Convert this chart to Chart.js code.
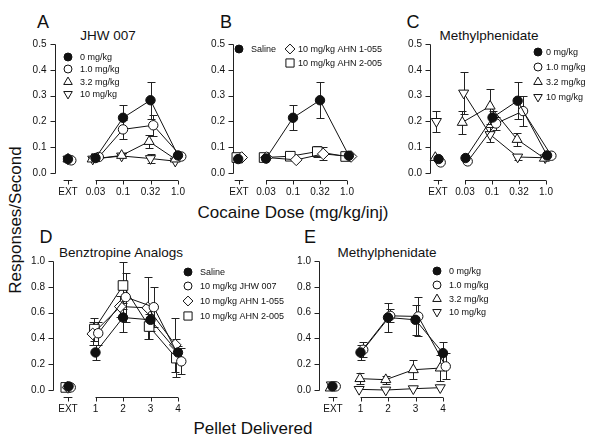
<!DOCTYPE html>
<html>
<head>
<meta charset="utf-8">
<script src="https://cdn.jsdelivr.net/npm/chart.js@4.4.1/dist/chart.umd.min.js"></script>
<style>
  body { margin: 0; background: #fff; width: 600px; height: 444px; overflow: hidden; position: relative;
         font-family: "Liberation Sans", Arial, sans-serif; color: #111; }
  canvas { position: absolute; left: 0; top: 0; }
  .t { position: absolute; white-space: nowrap; line-height: 1; transform: translate(-50%, -50%); }
  .letter { font-size: 18px; }
  .ttl { font-size: 13.5px; }
  .axt { font-size: 17px; }
</style>
</head>
<body>
<div class="t letter" style="left:43px;top:22px">A</div>
<div class="t letter" style="left:226px;top:22px">B</div>
<div class="t letter" style="left:413px;top:22px">C</div>
<div class="t letter" style="left:46px;top:237px">D</div>
<div class="t letter" style="left:310px;top:237px">E</div>
<div class="t ttl" style="left:108px;top:36px">JHW 007</div>
<div class="t ttl" style="left:489px;top:36px">Methylphenidate</div>
<div class="t ttl" style="left:121px;top:253px">Benztropine Analogs</div>
<div class="t ttl" style="left:387px;top:253px">Methylphenidate</div>
<div class="t axt" style="left:293px;top:212px">Cocaine Dose (mg/kg/inj)</div>
<div class="t axt" style="left:253px;top:428px">Pellet Delivered</div>
<div class="t axt" style="left:15px;top:220px;transform:translate(-50%,-50%) rotate(-90deg)">Responses/Second</div>

<script>
// tick labels
const doseTicks = ['EXT', '0.03', '0.1', '0.32', '1.0'];
const pelletTicks = ['EXT', '1', '2', '3', '4'];

// legend labels
const doseLegend = ['0 mg/kg', '1.0 mg/kg', '3.2 mg/kg', '10 mg/kg'];
const ahnLegend = ['Saline', '10 mg/kg AHN 1-055', '10 mg/kg AHN 2-005'];
const btLegend = ['Saline', '10 mg/kg JHW 007', '10 mg/kg AHN 1-055', '10 mg/kg AHN 2-005'];

// A - JHW 007 (x = position, y = mean, e = SEM)
const jhw0X = [0, 1, 2, 3, 4];
const jhw0Y = [0.054, 0.058, 0.214, 0.282, 0.068];
const jhw0E = [0, 0, 0.048, 0.072, 0];
const jhw1X = [0.12, 1.12, 2, 3.1, 4.12];
const jhw1Y = [0.049, 0.062, 0.169, 0.185, 0.064];
const jhw1E = [0, 0, 0.037, 0.04, 0];
const jhw3X = [0, 0.88, 1.95, 2.95, 3.9];
const jhw3Y = [0.054, 0.054, 0.068, 0.122, 0.054];
const jhw3E = [0, 0, 0, 0.025, 0];
const jhw10X = [0, 0.9, 1.95, 3, 3.9];
const jhw10Y = [0.054, 0.054, 0.066, 0.056, 0.046];
const jhw10E = [0, 0, 0, 0.016, 0];

// B - AHN compounds
const salX = [-0.03, 1, 2, 3, 4.07];
const salY = [0.054, 0.056, 0.214, 0.282, 0.067];
const salE = [0, 0, 0.048, 0.07, 0];
const ahn1X = [0.1, 1.02, 2.12, 3.12, 4.15];
const ahn1Y = [0.06, 0.06, 0.051, 0.074, 0.064];
const ahn1E = [0, 0, 0, 0.025, 0];
const ahn2X = [-0.08, 0.93, 1.9, 2.9, 3.95];
const ahn2Y = [0.06, 0.06, 0.065, 0.083, 0.064];
const ahn2E = [0, 0, 0, 0.02, 0];

// C - Methylphenidate, cocaine dose
const mph0X = [0.02, 1.02, 2.02, 2.95, 4.04];
const mph0Y = [0.054, 0.058, 0.215, 0.28, 0.068];
const mph0E = [0, 0, 0.025, 0.072, 0];
const mph1X = [0.1, 1.1, 2.15, 3.15, 4.2];
const mph1Y = [0.041, 0.045, 0.192, 0.24, 0.067];
const mph1E = [0, 0, 0.025, 0.057, 0];
const mph3X = [-0.1, 0.9, 1.93, 2.93, 3.94];
const mph3Y = [0.06, 0.196, 0.259, 0.13, 0.057];
const mph3E = [0, 0.043, 0.068, 0.024, 0];
const mph10X = [-0.06, 0.95, 1.93, 2.95, 3.97];
const mph10Y = [0.2, 0.31, 0.149, 0.062, 0.059];
const mph10E = [0.042, 0.08, 0.028, 0.012, 0];

// D - Benztropine analogs, pellets
const dSalX = [0.02, 1, 2, 3, 4];
const dSalY = [0.028, 0.291, 0.562, 0.544, 0.291];
const dSalE = [0, 0.055, 0.11, 0.09, 0.05];
const dJhwX = [0.1, 1.1, 2.1, 3.12, 4.12];
const dJhwY = [0.02, 0.44, 0.72, 0.642, 0.222];
const dJhwE = [0, 0.09, 0.19, 0.155, 0.1];
const dAhn1X = [0, 0.9, 1.9, 2.9, 3.9];
const dAhn1Y = [0.02, 0.435, 0.647, 0.637, 0.35];
const dAhn1E = [0, 0.09, 0.08, 0.24, 0.21];
const dAhn2X = [-0.08, 0.96, 2, 2.95, 3.94];
const dAhn2Y = [0.02, 0.472, 0.81, 0.492, 0.247];
const dAhn2E = [0, 0.09, 0.18, 0.1, 0.15];

// E - Methylphenidate, pellets
const e0X = [-0.02, 1, 2, 3, 4];
const e0Y = [0.028, 0.291, 0.562, 0.544, 0.286];
const e0E = [0, 0.055, 0.115, 0.115, 0.085];
const e1X = [0.1, 1.1, 2.08, 3.1, 4.1];
const e1Y = [0.028, 0.312, 0.575, 0.57, 0.183];
const e1E = [0, 0.06, 0.05, 0.15, 0.1];
const e3X = [-0.1, 0.98, 1.92, 2.92, 3.9];
const e3Y = [0.015, 0.088, 0.08, 0.157, 0.17];
const e3E = [0, 0.045, 0.03, 0.075, 0.1];
const e10X = [-0.06, 0.95, 1.92, 2.92, 3.9];
const e10Y = [0.04, 0.005, 0.0, 0.01, 0.018];
const e10E = [0, 0, 0, 0, 0];

const FONT = '"Liberation Sans", Arial, sans-serif';
const INK = '#111';

const sym = {
  filled:  { pointStyle: 'circle', radius: 4.7, rotation: 0, fill: INK },
  open:    { pointStyle: 'circle', radius: 4.7, rotation: 0, fill: '#fff' },
  up:      { pointStyle: 'triangle', radius: 5.8, rotation: 0, fill: '#fff' },
  down:    { pointStyle: 'triangle', radius: 5.8, rotation: 180, fill: '#fff' },
  diamond: { pointStyle: 'rectRot', radius: 5.8, rotation: 0, fill: '#fff' },
  square:  { pointStyle: 'rect', radius: 6.8, rotation: 0, fill: '#fff' }
};

function series(xs, ys, es, st) {
  return { xs: xs, ys: ys, es: es, st: st };
}

function panel(p) {
  const cv = document.createElement('canvas');
  cv.width = 600;
  cv.height = 444;
  document.body.appendChild(cv);

  const k = (p.x4 - p.x0) / 4;
  const xmin = -(p.x0 - p.left) / k;
  const xmax = 4.3;
  const right = p.x0 + xmax * k;

  const datasets = p.series.map(s => ({
    data: s.xs.map((x, i) => ({ x: x, y: s.ys[i] })),
    err: s.es,
    borderColor: INK,
    borderWidth: 1,
    tension: 0,
    fill: false,
    clip: false,
    pointStyle: s.st.pointStyle,
    pointRadius: s.st.radius,
    pointRotation: s.st.rotation,
    pointBackgroundColor: s.st.fill,
    pointBorderColor: INK,
    pointBorderWidth: 1,
    segment: { borderColor: c => c.p0DataIndex === 0 ? 'rgba(0,0,0,0)' : INK }
  }));

  const axesAndErrors = {
    id: 'axesAndErrors',
    beforeDatasetsDraw(chart) {
      const ctx = chart.ctx;
      const a = chart.chartArea;
      const x = chart.scales.x, y = chart.scales.y;
      ctx.save();
      ctx.strokeStyle = '#222';
      ctx.lineWidth = 1;
      ctx.beginPath();
      // y axis
      const ax = Math.round(a.left) + 0.5;
      ctx.moveTo(ax, Math.round(y.getPixelForValue(y.max)) + 0.5);
      ctx.lineTo(ax, Math.round(y.getPixelForValue(0)) + 0.5);
      y.ticks.forEach(t => {
        const py = Math.round(y.getPixelForValue(t.value)) + 0.5;
        ctx.moveTo(ax - 5, py);
        ctx.lineTo(ax, py);
      });
      // broken x axis
      const ay = Math.round(a.bottom + 7) + 0.5;
      ctx.moveTo(x.getPixelForValue(-0.16), ay);
      ctx.lineTo(x.getPixelForValue(0.16), ay);
      ctx.moveTo(x.getPixelForValue(1), ay);
      ctx.lineTo(x.getPixelForValue(4), ay);
      [0, 1, 2, 3, 4].forEach(v => {
        const px = Math.round(x.getPixelForValue(v)) + 0.5;
        ctx.moveTo(px, ay);
        ctx.lineTo(px, ay + 4);
      });
      // error bars
      chart.data.datasets.forEach(ds => {
        ds.err.forEach((e, j) => {
          if (!e) return;
          const pt = ds.data[j];
          const px = Math.round(x.getPixelForValue(pt.x)) + 0.5;
          const hi = Math.round(y.getPixelForValue(pt.y + e)) + 0.5;
          const lo = Math.round(y.getPixelForValue(pt.y - e)) + 0.5;
          ctx.moveTo(px, hi); ctx.lineTo(px, lo);
          ctx.moveTo(px - 4, hi); ctx.lineTo(px + 4, hi);
          ctx.moveTo(px - 4, lo); ctx.lineTo(px + 4, lo);
        });
      });
      ctx.stroke();
      ctx.restore();
    }
  };

  const legend = {
    id: 'sideLegend',
    afterDraw(chart) {
      const ctx = chart.ctx;
      ctx.save();
      ctx.font = '9px ' + FONT;
      ctx.textBaseline = 'middle';
      p.legend.forEach(it => {
        const st = p.series[it.i].st;
        ctx.fillStyle = st.fill;
        ctx.strokeStyle = INK;
        ctx.lineWidth = 1;
        Chart.helpers.drawPoint(ctx, {
          pointStyle: st.pointStyle, radius: st.radius * 0.85, rotation: st.rotation, borderWidth: 1
        }, it.mx, it.my);
        ctx.fillStyle = INK;
        ctx.fillText(it.label, it.tx, it.my + 0.5);
      });
      ctx.restore();
    }
  };

  new Chart(cv, {
    type: 'line',
    data: { datasets: datasets },
    options: {
      responsive: false,
      animation: false,
      events: [],
      layout: { padding: { left: p.left - 30, right: 600 - right, top: p.top, bottom: 444 - p.bottom - 30 } },
      plugins: { legend: { display: false }, tooltip: { enabled: false } },
      scales: {
        x: {
          type: 'linear', min: xmin, max: xmax,
          grid: { display: false, drawTicks: false },
          border: { display: false },
          afterBuildTicks: s => { s.ticks = [0, 1, 2, 3, 4].map(v => ({ value: v })); },
          afterFit: s => { s.height = 30; },
          ticks: {
            padding: 13, maxRotation: 0, autoSkip: false, color: INK,
            font: { size: 10, family: FONT },
            callback: v => p.ticks[v]
          }
        },
        y: {
          type: 'linear', min: 0, max: p.ymax,
          grid: { display: false, drawTicks: false },
          border: { display: false },
          afterFit: s => { s.width = 30; },
          ticks: {
            stepSize: p.ymax / 5, padding: 8, color: INK,
            font: { size: 10, family: FONT },
            callback: v => v.toFixed(1)
          }
        }
      }
    },
    plugins: [axesAndErrors, legend]
  });
}

function rows(labels, mx, tx, ys) {
  return labels.map((l, i) => ({ i: i, label: l, mx: mx, tx: tx, my: ys[i] }));
}

panel({
  left: 54.5, x0: 68, x4: 178, top: 44, bottom: 173, ymax: 0.5, ticks: doseTicks,
  series: [
    series(jhw0X, jhw0Y, jhw0E, sym.filled),
    series(jhw1X, jhw1Y, jhw1E, sym.open),
    series(jhw3X, jhw3Y, jhw3E, sym.up),
    series(jhw10X, jhw10Y, jhw10E, sym.down)
  ],
  legend: rows(doseLegend, 68, 80, [57, 69, 82, 94])
});

panel({
  left: 233, x0: 239, x4: 347, top: 44, bottom: 173, ymax: 0.5, ticks: doseTicks,
  series: [
    series(salX, salY, salE, sym.filled),
    series(ahn1X, ahn1Y, ahn1E, sym.diamond),
    series(ahn2X, ahn2Y, ahn2E, sym.square)
  ],
  legend: [
    { i: 0, label: ahnLegend[0], mx: 239, tx: 251, my: 49 },
    { i: 1, label: ahnLegend[1], mx: 290, tx: 298, my: 49 },
    { i: 2, label: ahnLegend[2], mx: 290, tx: 298, my: 63 }
  ]
});

panel({
  left: 430, x0: 438, x4: 546, top: 44, bottom: 173, ymax: 0.5, ticks: doseTicks,
  series: [
    series(mph0X, mph0Y, mph0E, sym.filled),
    series(mph1X, mph1Y, mph1E, sym.open),
    series(mph3X, mph3Y, mph3E, sym.up),
    series(mph10X, mph10Y, mph10E, sym.down)
  ],
  legend: rows(doseLegend, 538, 546, [52, 67, 82, 97])
});

panel({
  left: 53, x0: 68, x4: 178, top: 261, bottom: 390, ymax: 1.0, ticks: pelletTicks,
  series: [
    series(dSalX, dSalY, dSalE, sym.filled),
    series(dJhwX, dJhwY, dJhwE, sym.open),
    series(dAhn1X, dAhn1Y, dAhn1E, sym.diamond),
    series(dAhn2X, dAhn2Y, dAhn2E, sym.square)
  ],
  legend: rows(btLegend, 188, 200, [272, 286, 301, 316])
});

panel({
  left: 319, x0: 333, x4: 443, top: 261, bottom: 390, ymax: 1.0, ticks: pelletTicks,
  series: [
    series(e0X, e0Y, e0E, sym.filled),
    series(e1X, e1Y, e1E, sym.open),
    series(e3X, e3Y, e3E, sym.up),
    series(e10X, e10Y, e10E, sym.down)
  ],
  legend: rows(doseLegend, 437, 449, [271, 285, 299, 312])
});
</script>
</body>
</html>
